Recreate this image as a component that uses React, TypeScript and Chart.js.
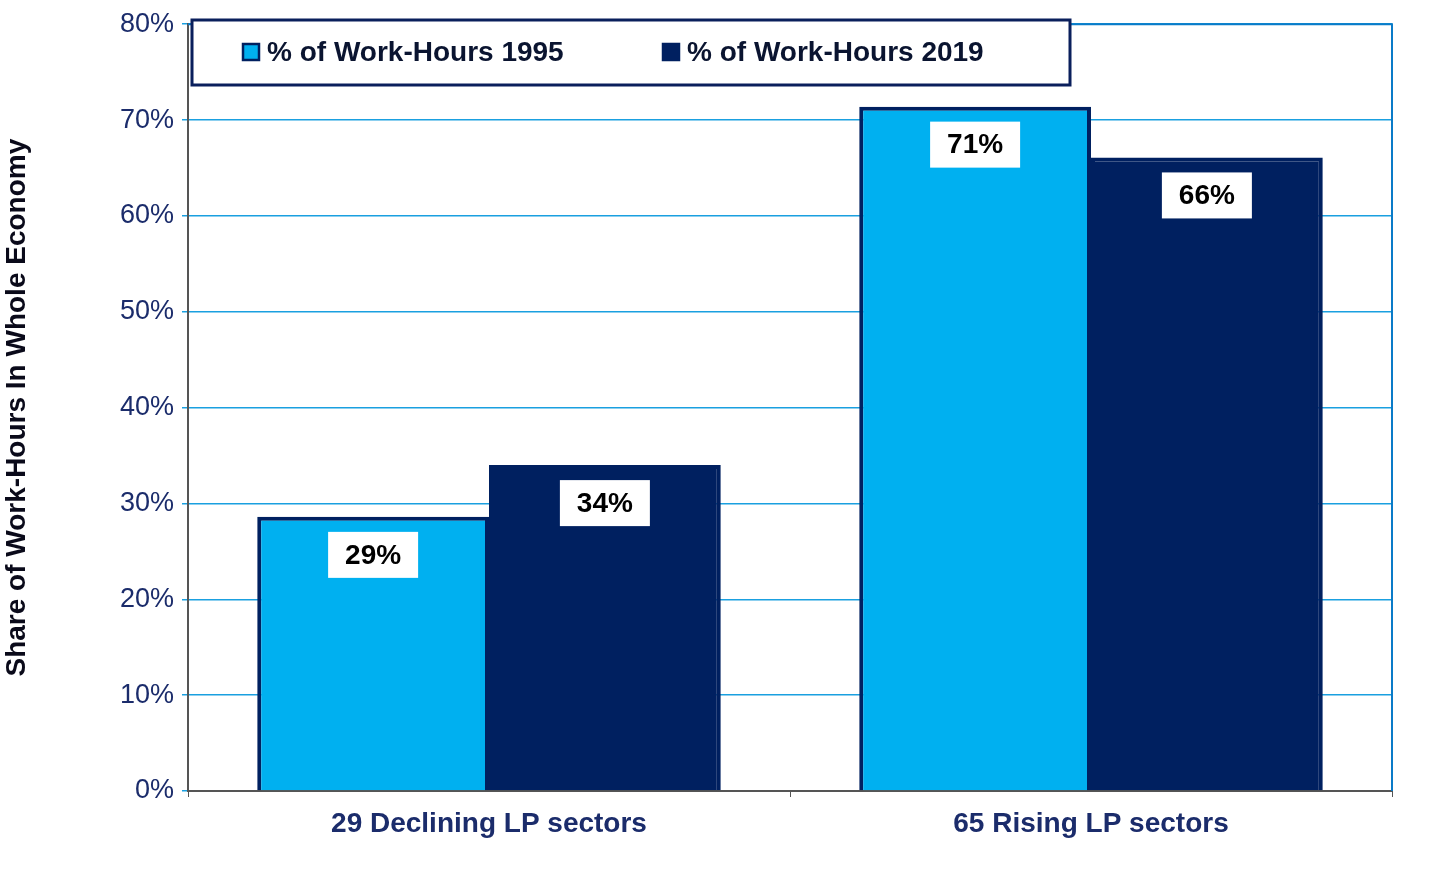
import React, { useEffect, useRef } from "react";
import { Chart, registerables } from "chart.js";
Chart.register(...registerables);

const categories = ["29 Declining LP sectors", "65 Rising LP sectors"];
const series1995 = [28.6, 71.4];
const series2019 = [34.0, 66.1];
const labels1995 = ["29%", "71%"];
const labels2019 = ["34%", "66%"];
const legendNames = ["% of Work-Hours 1995", "% of Work-Hours 2019"];

const LIGHT = "#00B0F0";
const DARK = "#002060";
const FONT = "'Liberation Sans', Arial, sans-serif";

export default function App() {
  const ref = useRef<HTMLCanvasElement>(null);
  useEffect(() => {
    document.body.style.margin = "0";
    const extras = {
      id: "extras",
      beforeDatasetsDraw(chart: any) {
        const { ctx, chartArea: a } = chart;
        ctx.save();
        ctx.strokeStyle = "#0A7BC8";
        ctx.lineWidth = 2;
        ctx.beginPath();
        ctx.moveTo(a.left, a.top);
        ctx.lineTo(a.right, a.top);
        ctx.lineTo(a.right, a.bottom);
        ctx.stroke();
        ctx.restore();
      },
      afterDatasetsDraw(chart: any) {
        const { ctx } = chart;
        ctx.save();
        const texts = [labels1995, labels2019];
        chart.data.datasets.forEach((_: any, di: number) => {
          chart.getDatasetMeta(di).data.forEach((bar: any, i: number) => {
            const cx = bar.x, cy = bar.y + 38;
            ctx.fillStyle = "#fff";
            ctx.fillRect(cx - 45, cy - 23, 90, 46);
            ctx.fillStyle = "#000";
            ctx.font = `bold 28px ${FONT}`;
            ctx.textAlign = "center";
            ctx.textBaseline = "middle";
            ctx.fillText(texts[di][i], cx, cy + 1);
          });
        });
        // legend
        ctx.fillStyle = "#fff";
        ctx.fillRect(192, 20, 878, 65);
        ctx.strokeStyle = "#0A1F5C";
        ctx.lineWidth = 3;
        ctx.strokeRect(192, 20, 878, 65);
        const items = [
          { x: 243, c: LIGHT, t: legendNames[0] },
          { x: 663, c: DARK, t: legendNames[1] },
        ];
        items.forEach((it) => {
          ctx.fillStyle = it.c;
          ctx.fillRect(it.x, 44, 16, 16);
          ctx.lineWidth = 2.5;
          ctx.strokeStyle = DARK;
          ctx.strokeRect(it.x, 44, 16, 16);
          ctx.fillStyle = "#0A1430";
          ctx.font = `bold 28px ${FONT}`;
          ctx.textAlign = "left";
          ctx.textBaseline = "middle";
          ctx.fillText(it.t, it.x + 24, 53);
        });
        ctx.restore();
      },
    };
    const chart = new Chart(ref.current!, {
      type: "bar",
      data: {
        labels: categories,
        datasets: [
          { data: series1995, backgroundColor: LIGHT, borderColor: DARK, borderWidth: 4, borderSkipped: "bottom" },
          { data: series2019, backgroundColor: DARK, borderColor: DARK, borderWidth: 4, borderSkipped: "bottom" },
        ],
      },
      options: {
        animation: false,
        responsive: false,
        layout: { padding: { top: 22, right: 64, left: 0, bottom: 0 } },
        plugins: { legend: { display: false }, tooltip: { enabled: false } },
        datasets: { bar: { categoryPercentage: 0.77, barPercentage: 1 } },
        scales: {
          x: {
            grid: { drawOnChartArea: false, offset: true, tickLength: 6, color: "#555" },
            border: { color: "#555", width: 2 },
            ticks: { color: "#1B2C6B", font: { family: FONT, size: 28, weight: "bold" }, padding: 10 },
            afterFit: (s: any) => { s.height = 83; },
          },
          y: {
            min: 0,
            max: 80,
            ticks: {
              stepSize: 10,
              color: "#1B2C6B",
              font: { family: FONT, size: 27 },
              padding: 8,
              callback: (v: any) => v + "%",
            },
            grid: { color: "#1AA0E0", lineWidth: 1.5, tickLength: 6 },
            border: { color: "#555", width: 2 },
            title: {
              display: true,
              text: "Share of Work-Hours In Whole Economy",
              color: "#0A0A1A",
              font: { family: FONT, size: 28, weight: "bold" },
              padding: { top: 0, bottom: 0 },
            },
            afterFit: (s: any) => { s.width = 188; },
          },
        },
      },
      plugins: [extras],
    } as any);
    return () => chart.destroy();
  }, []);
  return <canvas ref={ref} width={1456} height={874} style={{ display: "block" }} />;
}
